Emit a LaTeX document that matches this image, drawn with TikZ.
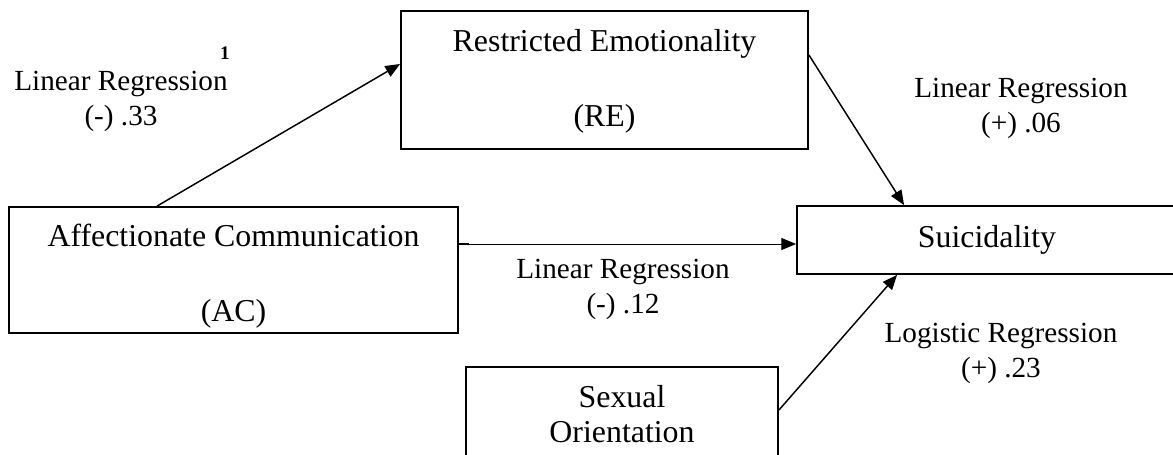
\documentclass[tikz,border=0pt]{standalone}
\usepackage{fontspec}
\setmainfont{Liberation Serif}
\usetikzlibrary{arrows.meta,calc}

\tikzset{
	varbox/.style={draw, line width=1.4pt, rectangle, inner sep=0pt, align=center,
		font=\fontsize{23.9}{26.25}\selectfont},
	boxtext/.style={inner sep=0pt, align=center, font=\fontsize{23.9}{26.25}\selectfont},
	reglabel/.style={inner sep=0.75pt, align=center, font=\fontsize{21.9}{26.25}\selectfont},
	arr/.style={line width=1.1pt, -{Triangle[length=11pt,width=9pt]}}
}

\begin{document}
\begin{tikzpicture}[x=0.75pt,y=0.75pt,yscale=-1,xscale=1]
	%set diagram to 1173 x 454
	\useasboundingbox (0,0) rectangle (1173,454);
	
	%Shape: Rectangle [Restricted Emotionality]
	\node [varbox, minimum width=305.25pt, minimum height=103.5pt] (re) at (604.5,80) {};
	\node [boxtext] (retext) at (604.5,81) {Restricted Emotionality\\[30pt](RE)};
	%Shape: Rectangle [Affectionate Communication]
	\node [varbox, minimum width=336.75pt, minimum height=94.5pt] (ac) at (233.5,270) {};
	\node [boxtext] (actext) at (233.5,276) {Affectionate Communication\\[30pt](AC)};
	%Shape: Rectangle [Suicidality]
	\node [varbox, minimum width=292.5pt, minimum height=51pt] (suic) at (992,240) {};
	\node [boxtext] (suictext) at (987,240) {Suicidality};
	%Shape: Rectangle [Sexual Orientation]
	\node [varbox, minimum width=234pt, minimum height=71.25pt] (so) at (622,414.5) {Sexual\\Orientation};
	
	%Straight Lines [AC to RE]
	\draw [arr] ($(ac.north west)+(149,0)$) -- ($(re.west)+(0,-16)$) ;
	%Straight Lines [RE to Suicidality]
	\draw [arr] ($(re.east)+(0,-25)$) -- ($(suic.north west)+(108,0)$) ;
	%Straight Lines [AC to Suicidality]
	\coordinate (acout) at ($(ac.east)+(0,-26)$);
	\draw [line width=1.4pt] (acout) -- ++(10,0) ;
	\draw [line width=0.6pt, -{Triangle[length=11pt,width=9pt]}] (acout) -- (acout -| suic.west) ;
	%Straight Lines [SO to Suicidality]
	\draw [arr] ($(so.east)+(0,-4.5)$) -- ($(suic.south west)+(101,0)$) ;
	
	% Text Node
	\node [reglabel] (lab33) at (121,101) {Linear Regression\\(-) .33};
	% Text Node
	\node [inner sep=0.75pt, font=\fontsize{14.4}{16}\selectfont\bfseries] (note1) at (225,53) {1};
	% Text Node
	\node [reglabel] (lab06) at (1021,108.5) {Linear Regression\\(+) .06};
	% Text Node
	\node [reglabel] (lab12) at (623,289.5) {Linear Regression\\(-) .12};
	% Text Node
	\node [reglabel] (lab23) at (1001,353.5) {Logistic Regression\\(+) .23};
	
\end{tikzpicture}
\end{document}
